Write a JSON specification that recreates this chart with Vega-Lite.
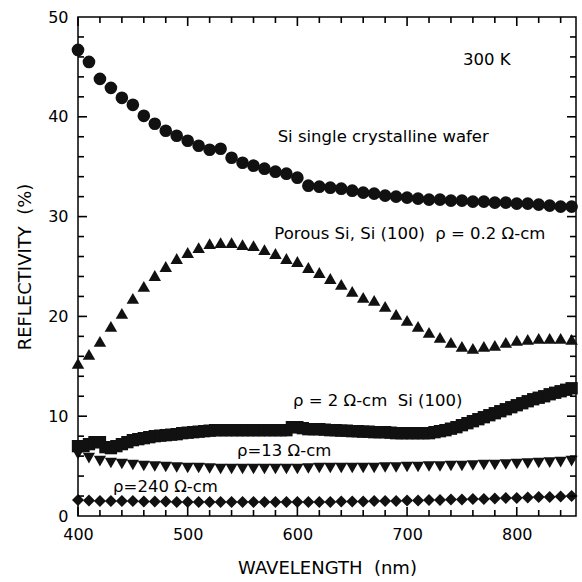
{
  "$schema": "https://vega.github.io/schema/vega-lite/v6.json",
  "width": 498,
  "height": 499,
  "autosize": {"type": "none"},
  "padding": {"left": 78, "top": 17, "right": 6, "bottom": 66},
  "background": "white",
  "datasets": {
    "pts": [
      {"s":"wafer","x":400,"y":46.7},{"s":"wafer","x":410,"y":45.5},{"s":"wafer","x":420,"y":43.8},{"s":"wafer","x":430,"y":42.9},{"s":"wafer","x":440,"y":41.9},{"s":"wafer","x":450,"y":41.2},{"s":"wafer","x":460,"y":40.1},{"s":"wafer","x":470,"y":39.3},{"s":"wafer","x":480,"y":38.6},{"s":"wafer","x":490,"y":38.1},{"s":"wafer","x":500,"y":37.6},{"s":"wafer","x":510,"y":37.1},{"s":"wafer","x":520,"y":36.7},{"s":"wafer","x":530,"y":36.8},{"s":"wafer","x":540,"y":35.9},{"s":"wafer","x":550,"y":35.4},{"s":"wafer","x":560,"y":35.1},{"s":"wafer","x":570,"y":34.8},{"s":"wafer","x":580,"y":34.5},{"s":"wafer","x":590,"y":34.3},{"s":"wafer","x":600,"y":33.9},{"s":"wafer","x":610,"y":33.1},{"s":"wafer","x":620,"y":33.0},{"s":"wafer","x":630,"y":32.9},{"s":"wafer","x":640,"y":32.8},{"s":"wafer","x":650,"y":32.6},{"s":"wafer","x":660,"y":32.4},{"s":"wafer","x":670,"y":32.3},{"s":"wafer","x":680,"y":32.1},{"s":"wafer","x":690,"y":32.0},{"s":"wafer","x":700,"y":31.9},{"s":"wafer","x":710,"y":31.8},{"s":"wafer","x":720,"y":31.7},{"s":"wafer","x":730,"y":31.7},{"s":"wafer","x":740,"y":31.6},{"s":"wafer","x":750,"y":31.6},{"s":"wafer","x":760,"y":31.5},{"s":"wafer","x":770,"y":31.5},{"s":"wafer","x":780,"y":31.4},{"s":"wafer","x":790,"y":31.4},{"s":"wafer","x":800,"y":31.3},{"s":"wafer","x":810,"y":31.3},{"s":"wafer","x":820,"y":31.2},{"s":"wafer","x":830,"y":31.1},{"s":"wafer","x":840,"y":31.0},{"s":"wafer","x":850,"y":31.0},
      {"s":"porous","x":400,"y":15.3},{"s":"porous","x":410,"y":16.2},{"s":"porous","x":420,"y":17.5},{"s":"porous","x":430,"y":19.0},{"s":"porous","x":440,"y":20.3},{"s":"porous","x":450,"y":21.8},{"s":"porous","x":460,"y":23.0},{"s":"porous","x":470,"y":24.1},{"s":"porous","x":480,"y":25.0},{"s":"porous","x":490,"y":25.8},{"s":"porous","x":500,"y":26.4},{"s":"porous","x":510,"y":26.9},{"s":"porous","x":520,"y":27.3},{"s":"porous","x":530,"y":27.4},{"s":"porous","x":540,"y":27.4},{"s":"porous","x":550,"y":27.2},{"s":"porous","x":560,"y":27.1},{"s":"porous","x":570,"y":26.7},{"s":"porous","x":580,"y":26.3},{"s":"porous","x":590,"y":25.8},{"s":"porous","x":600,"y":25.5},{"s":"porous","x":610,"y":24.9},{"s":"porous","x":620,"y":24.4},{"s":"porous","x":630,"y":23.8},{"s":"porous","x":640,"y":23.2},{"s":"porous","x":650,"y":22.5},{"s":"porous","x":660,"y":21.9},{"s":"porous","x":670,"y":21.6},{"s":"porous","x":680,"y":21.0},{"s":"porous","x":690,"y":20.2},{"s":"porous","x":700,"y":19.6},{"s":"porous","x":710,"y":19.0},{"s":"porous","x":720,"y":18.4},{"s":"porous","x":730,"y":17.9},{"s":"porous","x":740,"y":17.4},{"s":"porous","x":750,"y":17.0},{"s":"porous","x":760,"y":16.8},{"s":"porous","x":770,"y":17.0},{"s":"porous","x":780,"y":17.1},{"s":"porous","x":790,"y":17.4},{"s":"porous","x":800,"y":17.6},{"s":"porous","x":810,"y":17.7},{"s":"porous","x":820,"y":17.8},{"s":"porous","x":830,"y":17.8},{"s":"porous","x":840,"y":17.8},{"s":"porous","x":850,"y":17.7},
      {"s":"p2","x":400,"y":7.0},{"s":"p2","x":405,"y":7.0},{"s":"p2","x":410,"y":7.2},{"s":"p2","x":415,"y":7.4},{"s":"p2","x":420,"y":7.4},{"s":"p2","x":425,"y":6.9},{"s":"p2","x":430,"y":6.8},{"s":"p2","x":435,"y":7.0},{"s":"p2","x":440,"y":7.2},{"s":"p2","x":445,"y":7.4},{"s":"p2","x":450,"y":7.6},{"s":"p2","x":455,"y":7.7},{"s":"p2","x":460,"y":7.8},{"s":"p2","x":465,"y":7.9},{"s":"p2","x":470,"y":8.0},{"s":"p2","x":475,"y":8.05},{"s":"p2","x":480,"y":8.1},{"s":"p2","x":485,"y":8.15},{"s":"p2","x":490,"y":8.2},{"s":"p2","x":495,"y":8.3},{"s":"p2","x":500,"y":8.35},{"s":"p2","x":505,"y":8.4},{"s":"p2","x":510,"y":8.45},{"s":"p2","x":515,"y":8.5},{"s":"p2","x":520,"y":8.55},{"s":"p2","x":525,"y":8.6},{"s":"p2","x":530,"y":8.6},{"s":"p2","x":535,"y":8.6},{"s":"p2","x":540,"y":8.6},{"s":"p2","x":545,"y":8.6},{"s":"p2","x":550,"y":8.6},{"s":"p2","x":555,"y":8.6},{"s":"p2","x":560,"y":8.6},{"s":"p2","x":565,"y":8.6},{"s":"p2","x":570,"y":8.6},{"s":"p2","x":575,"y":8.6},{"s":"p2","x":580,"y":8.6},{"s":"p2","x":585,"y":8.6},{"s":"p2","x":590,"y":8.6},{"s":"p2","x":595,"y":8.9},{"s":"p2","x":600,"y":8.9},{"s":"p2","x":605,"y":8.8},{"s":"p2","x":610,"y":8.7},{"s":"p2","x":615,"y":8.7},{"s":"p2","x":620,"y":8.7},{"s":"p2","x":625,"y":8.65},{"s":"p2","x":630,"y":8.6},{"s":"p2","x":635,"y":8.6},{"s":"p2","x":640,"y":8.55},{"s":"p2","x":645,"y":8.55},{"s":"p2","x":650,"y":8.5},{"s":"p2","x":655,"y":8.5},{"s":"p2","x":660,"y":8.45},{"s":"p2","x":665,"y":8.45},{"s":"p2","x":670,"y":8.4},{"s":"p2","x":675,"y":8.4},{"s":"p2","x":680,"y":8.4},{"s":"p2","x":685,"y":8.35},{"s":"p2","x":690,"y":8.3},{"s":"p2","x":695,"y":8.3},{"s":"p2","x":700,"y":8.3},{"s":"p2","x":705,"y":8.3},{"s":"p2","x":710,"y":8.3},{"s":"p2","x":715,"y":8.3},{"s":"p2","x":720,"y":8.3},{"s":"p2","x":725,"y":8.4},{"s":"p2","x":730,"y":8.5},{"s":"p2","x":735,"y":8.6},{"s":"p2","x":740,"y":8.75},{"s":"p2","x":745,"y":8.9},{"s":"p2","x":750,"y":9.1},{"s":"p2","x":755,"y":9.3},{"s":"p2","x":760,"y":9.5},{"s":"p2","x":765,"y":9.7},{"s":"p2","x":770,"y":9.9},{"s":"p2","x":775,"y":10.1},{"s":"p2","x":780,"y":10.3},{"s":"p2","x":785,"y":10.5},{"s":"p2","x":790,"y":10.7},{"s":"p2","x":795,"y":10.9},{"s":"p2","x":800,"y":11.1},{"s":"p2","x":805,"y":11.3},{"s":"p2","x":810,"y":11.5},{"s":"p2","x":815,"y":11.7},{"s":"p2","x":820,"y":11.85},{"s":"p2","x":825,"y":12.0},{"s":"p2","x":830,"y":12.2},{"s":"p2","x":835,"y":12.35},{"s":"p2","x":840,"y":12.5},{"s":"p2","x":845,"y":12.65},{"s":"p2","x":850,"y":12.8},
      {"s":"p13","x":400,"y":6.2},{"s":"p13","x":410,"y":5.8},{"s":"p13","x":420,"y":5.5},{"s":"p13","x":430,"y":5.3},{"s":"p13","x":440,"y":5.2},{"s":"p13","x":450,"y":5.1},{"s":"p13","x":460,"y":5.0},{"s":"p13","x":470,"y":4.95},{"s":"p13","x":480,"y":4.9},{"s":"p13","x":490,"y":4.85},{"s":"p13","x":500,"y":4.8},{"s":"p13","x":510,"y":4.8},{"s":"p13","x":520,"y":4.75},{"s":"p13","x":530,"y":4.7},{"s":"p13","x":540,"y":4.7},{"s":"p13","x":550,"y":4.7},{"s":"p13","x":560,"y":4.7},{"s":"p13","x":570,"y":4.7},{"s":"p13","x":580,"y":4.7},{"s":"p13","x":590,"y":4.7},{"s":"p13","x":600,"y":4.7},{"s":"p13","x":610,"y":4.75},{"s":"p13","x":620,"y":4.8},{"s":"p13","x":630,"y":4.8},{"s":"p13","x":640,"y":4.8},{"s":"p13","x":650,"y":4.8},{"s":"p13","x":660,"y":4.8},{"s":"p13","x":670,"y":4.8},{"s":"p13","x":680,"y":4.85},{"s":"p13","x":690,"y":4.85},{"s":"p13","x":700,"y":4.9},{"s":"p13","x":710,"y":4.9},{"s":"p13","x":720,"y":4.95},{"s":"p13","x":730,"y":4.95},{"s":"p13","x":740,"y":5.0},{"s":"p13","x":750,"y":5.0},{"s":"p13","x":760,"y":5.05},{"s":"p13","x":770,"y":5.1},{"s":"p13","x":780,"y":5.1},{"s":"p13","x":790,"y":5.15},{"s":"p13","x":800,"y":5.2},{"s":"p13","x":810,"y":5.25},{"s":"p13","x":820,"y":5.3},{"s":"p13","x":830,"y":5.35},{"s":"p13","x":840,"y":5.4},{"s":"p13","x":850,"y":5.5},
      {"s":"p240","x":400,"y":1.6},{"s":"p240","x":410,"y":1.55},{"s":"p240","x":420,"y":1.5},{"s":"p240","x":430,"y":1.5},{"s":"p240","x":440,"y":1.5},{"s":"p240","x":450,"y":1.5},{"s":"p240","x":460,"y":1.45},{"s":"p240","x":470,"y":1.45},{"s":"p240","x":480,"y":1.45},{"s":"p240","x":490,"y":1.4},{"s":"p240","x":500,"y":1.4},{"s":"p240","x":510,"y":1.4},{"s":"p240","x":520,"y":1.4},{"s":"p240","x":530,"y":1.4},{"s":"p240","x":540,"y":1.4},{"s":"p240","x":550,"y":1.4},{"s":"p240","x":560,"y":1.4},{"s":"p240","x":570,"y":1.4},{"s":"p240","x":580,"y":1.4},{"s":"p240","x":590,"y":1.4},{"s":"p240","x":600,"y":1.4},{"s":"p240","x":610,"y":1.4},{"s":"p240","x":620,"y":1.4},{"s":"p240","x":630,"y":1.4},{"s":"p240","x":640,"y":1.45},{"s":"p240","x":650,"y":1.45},{"s":"p240","x":660,"y":1.45},{"s":"p240","x":670,"y":1.5},{"s":"p240","x":680,"y":1.5},{"s":"p240","x":690,"y":1.5},{"s":"p240","x":700,"y":1.55},{"s":"p240","x":710,"y":1.55},{"s":"p240","x":720,"y":1.6},{"s":"p240","x":730,"y":1.6},{"s":"p240","x":740,"y":1.65},{"s":"p240","x":750,"y":1.65},{"s":"p240","x":760,"y":1.7},{"s":"p240","x":770,"y":1.7},{"s":"p240","x":780,"y":1.75},{"s":"p240","x":790,"y":1.8},{"s":"p240","x":800,"y":1.8},{"s":"p240","x":810,"y":1.85},{"s":"p240","x":820,"y":1.9},{"s":"p240","x":830,"y":1.9},{"s":"p240","x":840,"y":1.95},{"s":"p240","x":850,"y":2.0}
    ],
    "labels": [
      {"t":"300 K","x":751,"y":45.7},
      {"t":"Si single crystalline wafer","x":582,"y":38.0},
      {"t":"Porous Si, Si (100)\u00a0\u00a0ρ = 0.2 Ω-cm","x":579,"y":28.3},
      {"t":"ρ = 2 Ω-cm\u00a0\u00a0Si (100)","x":596,"y":11.55},
      {"t":"ρ=13 Ω-cm","x":545,"y":6.5},
      {"t":"ρ=240 Ω-cm","x":432,"y":2.9}
    ],
    "xmaj": [{"v":400},{"v":500},{"v":600},{"v":700},{"v":800}],
    "xmin": [{"v":420},{"v":440},{"v":460},{"v":480},{"v":520},{"v":540},{"v":560},{"v":580},{"v":620},{"v":640},{"v":660},{"v":680},{"v":720},{"v":740},{"v":760},{"v":780},{"v":820},{"v":840}],
    "ymaj": [{"v":10},{"v":20},{"v":30},{"v":40}],
    "ymin": [{"v":2},{"v":4},{"v":6},{"v":8},{"v":12},{"v":14},{"v":16},{"v":18},{"v":22},{"v":24},{"v":26},{"v":28},{"v":32},{"v":34},{"v":36},{"v":38},{"v":42},{"v":44},{"v":46},{"v":48}]
  },
  "layer": [
    {
      "data": {"name": "pts"},
      "mark": {"type": "point", "filled": true, "opacity": 1, "color": "#111111"},
      "encoding": {
        "x": {"field": "x", "type": "quantitative",
          "scale": {"domain": [400, 854], "nice": false, "zero": false},
          "axis": {"orient": "bottom", "values": [400,500,600,700,800],
            "labelFlush": false, "labelOverlap": false,
            "domain": false, "ticks": false, "labelPadding": 10,
            "title": "WAVELENGTH\u00a0\u00a0(nm)", "titleY": 52, "titleBaseline": "middle"}},
        "y": {"field": "y", "type": "quantitative",
          "scale": {"domain": [0, 50], "nice": false},
          "axis": {"orient": "left", "values": [0,10,20,30,40,50],
            "labelFlush": false, "labelOverlap": false,
            "domain": false, "ticks": false, "labelPadding": 10,
            "title": "REFLECTIVITY\u00a0\u00a0(%)", "titleX": -53, "titleBaseline": "middle"}},
        "shape": {"field": "s", "type": "nominal", "legend": null,
          "scale": {"domain": ["wafer","porous","p2","p13","p240"], "range": ["circle","triangle-up","square","triangle-down","diamond"]}},
        "size": {"field": "s", "type": "nominal", "legend": null,
          "scale": {"domain": ["wafer","porous","p2","p13","p240"], "range": [160,144,90,110,120]}}
      }
    },
    {
      "data": {"name": "labels"},
      "mark": {"type": "text", "align": "left", "baseline": "middle", "font": "DejaVu Sans", "fontSize": 16.5, "color": "black"},
      "encoding": {
        "x": {"field": "x", "type": "quantitative", "axis": null},
        "y": {"field": "y", "type": "quantitative", "axis": null},
        "text": {"field": "t", "type": "nominal"}
      }
    },
    {
      "data": {"name": "xmaj"},
      "mark": {"type": "tick", "orient": "vertical", "size": 9, "thickness": 1.6, "yOffset": -4.5, "color": "black", "opacity": 1},
      "encoding": {"x": {"field": "v", "type": "quantitative", "axis": null}, "y": {"datum": 0, "type": "quantitative", "axis": null}}
    },
    {
      "data": {"name": "xmin"},
      "mark": {"type": "tick", "orient": "vertical", "size": 6, "thickness": 1.6, "yOffset": -3, "color": "black", "opacity": 1},
      "encoding": {"x": {"field": "v", "type": "quantitative", "axis": null}, "y": {"datum": 0, "type": "quantitative", "axis": null}}
    },
    {
      "data": {"name": "xmaj"},
      "mark": {"type": "tick", "orient": "vertical", "size": 9, "thickness": 1.6, "yOffset": 4.5, "color": "black", "opacity": 1},
      "encoding": {"x": {"field": "v", "type": "quantitative", "axis": null}, "y": {"datum": 50, "type": "quantitative", "axis": null}}
    },
    {
      "data": {"name": "xmin"},
      "mark": {"type": "tick", "orient": "vertical", "size": 6, "thickness": 1.6, "yOffset": 3, "color": "black", "opacity": 1},
      "encoding": {"x": {"field": "v", "type": "quantitative", "axis": null}, "y": {"datum": 50, "type": "quantitative", "axis": null}}
    },
    {
      "data": {"name": "ymaj"},
      "mark": {"type": "tick", "orient": "horizontal", "size": 9, "thickness": 1.6, "xOffset": 4.5, "color": "black", "opacity": 1},
      "encoding": {"y": {"field": "v", "type": "quantitative", "axis": null}, "x": {"datum": 400, "type": "quantitative", "axis": null}}
    },
    {
      "data": {"name": "ymin"},
      "mark": {"type": "tick", "orient": "horizontal", "size": 6, "thickness": 1.6, "xOffset": 3, "color": "black", "opacity": 1},
      "encoding": {"y": {"field": "v", "type": "quantitative", "axis": null}, "x": {"datum": 400, "type": "quantitative", "axis": null}}
    },
    {
      "data": {"name": "ymaj"},
      "mark": {"type": "tick", "orient": "horizontal", "size": 9, "thickness": 1.6, "xOffset": -4.5, "color": "black", "opacity": 1},
      "encoding": {"y": {"field": "v", "type": "quantitative", "axis": null}, "x": {"datum": 854, "type": "quantitative", "axis": null}}
    },
    {
      "data": {"name": "ymin"},
      "mark": {"type": "tick", "orient": "horizontal", "size": 6, "thickness": 1.6, "xOffset": -3, "color": "black", "opacity": 1},
      "encoding": {"y": {"field": "v", "type": "quantitative", "axis": null}, "x": {"datum": 854, "type": "quantitative", "axis": null}}
    }
  ],
  "resolve": {"axis": {"x": "independent", "y": "independent"}},
  "config": {
    "view": {"stroke": "black", "strokeWidth": 1.5},
    "axis": {"grid": false, "labelFont": "DejaVu Sans", "labelFontSize": 16, "labelColor": "black",
      "titleFont": "DejaVu Sans", "titleFontSize": 18, "titleFontWeight": "normal", "titleColor": "black"}
  }
}
